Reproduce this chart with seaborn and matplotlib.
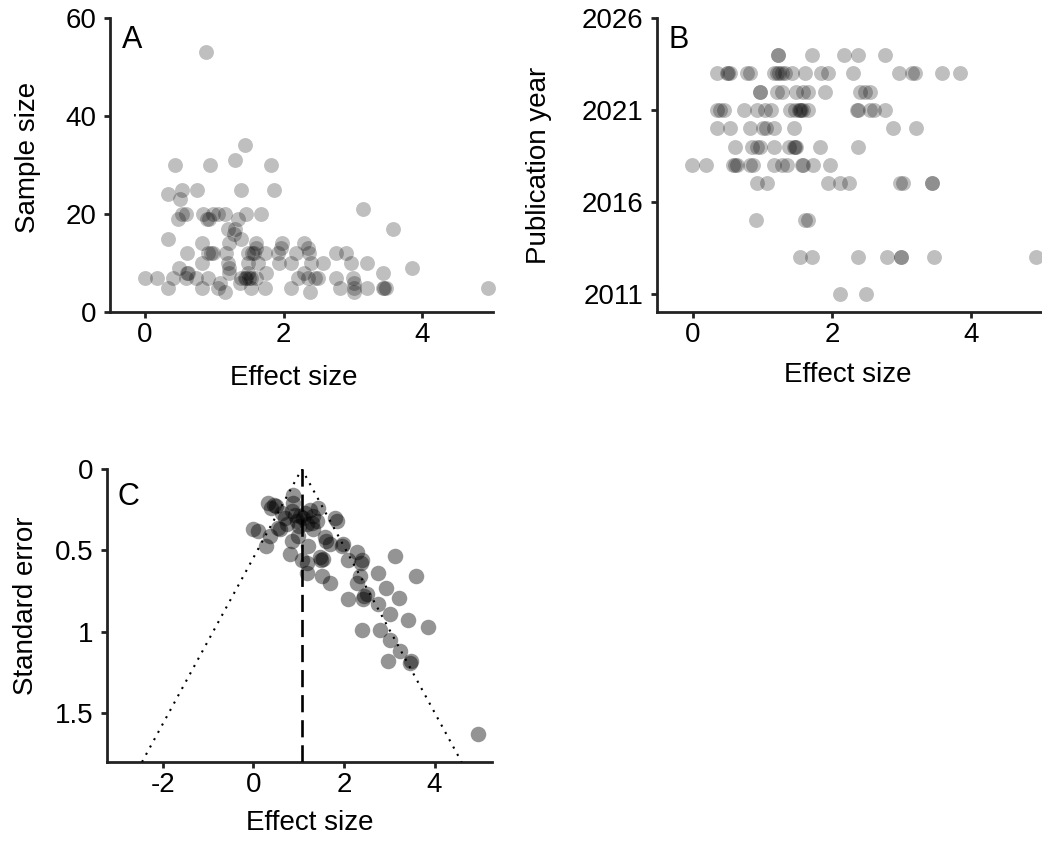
import matplotlib
matplotlib.use("Agg")
import matplotlib.pyplot as plt
import seaborn as sns
import pandas as pd

# ---------------- Data ----------------
# Panel A: effect size vs sample size
a_effect = [0.89, 1.45, 0.44, 0.94, 1.30, 1.82, 0.53, 0.76, 1.39, 1.86, 0.34, 0.51,
            0.53, 0.60, 0.48, 0.84, 0.90, 0.92, 0.98, 1.05, 1.15, 1.34, 1.46, 1.68,
            1.20, 1.30, 1.28, 0.33, 0.82, 1.21, 1.39, 1.61, 1.60, 1.98, 1.96, 2.30,
            3.14, 3.58, 0.61, 0.91, 0.95, 0.98, 1.17, 1.49, 1.55, 1.58, 1.73, 1.92,
            2.18, 2.37, 2.36, 2.76, 2.90, 0.82, 1.20, 1.22, 1.49, 1.63, 1.94, 2.11,
            2.40, 2.57, 2.97, 3.21, 0.49, 3.85, 0.61, 0.63, 1.21, 1.49, 1.75, 2.30,
            3.43, 0.00, 0.17, 0.41, 0.60, 0.74, 0.91, 1.39, 1.44, 1.46, 1.50, 1.53,
            1.61, 2.21, 2.35, 2.45, 2.49, 2.76, 3.00, 1.37, 0.34, 0.82, 1.06, 1.08,
            1.53, 1.73, 2.11, 2.81, 3.02, 3.01, 3.21, 3.43, 3.45, 3.48, 4.95, 1.15,
            2.38, 3.01]
a_n = [53, 34, 30, 30, 31, 30, 25, 25, 25, 25, 24, 23,
       20, 20, 19, 20, 19, 19, 20, 20, 20, 19, 20, 20,
       17, 17, 16, 15, 14, 14, 15, 14, 13, 14, 13, 14,
       21, 17, 12, 12, 12, 12, 12, 12, 12, 12, 12, 12,
       12, 12, 13, 12, 12, 10, 10, 9, 10, 10, 10, 10,
       10, 10, 10, 10, 9, 9, 8, 8, 8, 8, 8, 8,
       8, 7, 7, 7, 7, 7, 7, 7, 7, 7, 7, 7,
       7, 7, 7, 7, 7, 7, 7, 6, 5, 5, 5, 6,
       5, 5, 5, 5, 5, 6, 5, 5, 5, 5, 5, 4,
       4, 4]

# Panel B: effect size vs publication year
b_effect = [1.22, 1.22, 1.72, 2.17, 2.37, 2.76,
            0.34, 0.49, 0.51, 0.53, 0.78, 0.82, 1.16, 1.21, 1.24, 1.28, 1.33, 1.42,
            1.61, 1.85, 1.95, 2.30, 2.96, 3.15, 3.20, 3.58, 3.84,
            0.96, 0.96, 1.21, 1.28, 1.49, 1.59, 1.66, 1.90, 2.41, 2.48, 2.55,
            0.34, 0.39, 0.45, 0.73, 0.92, 1.04, 1.12, 1.40, 1.47, 1.52, 1.54, 1.56,
            1.59, 1.66, 2.36, 2.38, 2.55, 2.60, 2.76,
            0.34, 0.53, 0.82, 1.01, 1.05, 1.16, 1.45, 2.88, 3.21,
            0.61, 0.85, 0.92, 0.97, 1.16, 1.38, 1.45, 1.47, 1.49, 1.83, 2.38,
            -0.01, 0.18, 0.58, 0.61, 0.63, 0.82, 0.87, 1.16, 1.28, 1.35, 1.57, 1.59,
            1.73, 1.97,
            0.92, 1.06, 1.94, 2.12, 2.25, 2.98, 3.03, 3.44, 3.44,
            0.90, 1.61, 1.66,
            1.54, 1.72, 2.38, 2.79, 3.00, 3.00, 3.47, 4.94,
            2.11, 2.49]
b_year = [2024] * 6 + [2023] * 21 + [2022] * 11 + [2021] * 19 + [2020] * 9 + \
         [2019] * 11 + [2018] * 14 + [2017] * 9 + [2015] * 3 + [2013] * 8 + [2011] * 2

# Panel C: funnel plot (effect size vs standard error)
c_effect = [4.96, 3.13, 3.59, 3.86, 3.42, 2.98, 3.46, 3.48, 3.24, 3.01, 2.79, 2.39,
            3.01, 2.76, 2.94, 3.22, 2.76, 2.50, 2.43, 2.45, 2.10, 2.28, 2.35, 2.39,
            2.37, 2.28, 2.10, 1.95, 1.99, 1.69, 1.51, 1.47, 1.54, 1.50, 1.58, 1.69,
            1.60, 1.80, 1.85, 1.43, 1.32, 1.18, 1.07, 1.18, 0.81, 0.29, 0.00, 0.11,
            0.37, 0.59, 0.33, 0.40, 0.51, 0.45, 0.88, 0.85, 1.03, 0.96, 1.18, 1.25,
            1.14, 1.32, 0.99, 0.85, 1.21, 0.74, 1.40, 0.63, 0.88, 1.10, 1.00, 0.92,
            1.30, 0.70, 0.55]
c_se = [1.63, 0.535, 0.66, 0.97, 0.93, 1.18, 1.19, 1.18, 1.12, 1.05, 0.99, 0.99,
        0.89, 0.83, 0.73, 0.79, 0.64, 0.77, 0.80, 0.78, 0.80, 0.70, 0.66, 0.56,
        0.58, 0.51, 0.56, 0.47, 0.46, 0.70, 0.66, 0.54, 0.55, 0.56, 0.42, 0.46,
        0.44, 0.30, 0.32, 0.24, 0.29, 0.58, 0.56, 0.64, 0.52, 0.47, 0.37, 0.38,
        0.41, 0.37, 0.21, 0.24, 0.23, 0.22, 0.16, 0.26, 0.29, 0.32, 0.34, 0.25,
        0.27, 0.37, 0.41, 0.44, 0.47, 0.34, 0.32, 0.27, 0.21, 0.30, 0.35, 0.28,
        0.33, 0.30, 0.36]
pooled_effect = 1.07

# ---------------- Style ----------------
sns.set_theme(style="ticks")
plt.rcParams["font.family"] = ["Liberation Sans", "DejaVu Sans"]
plt.rcParams["axes.unicode_minus"] = False
plt.rcParams["text.color"] = "black"
plt.rcParams["axes.labelcolor"] = "black"
INK = "#222222"
FS = 20

fig = plt.figure(figsize=(10.42, 8.41), dpi=100)
axA = fig.add_axes([0.1056, 0.629, 0.3676, 0.3496])
axB = fig.add_axes([0.6305, 0.629, 0.3690, 0.3496])
axC = fig.add_axes([0.1027, 0.0939, 0.3695, 0.3484])

dfA = pd.DataFrame({"effect": a_effect, "n": a_n})
dfB = pd.DataFrame({"effect": b_effect, "year": b_year})
dfC = pd.DataFrame({"effect": c_effect, "se": c_se})

sns.scatterplot(data=dfA, x="effect", y="n", ax=axA, color="black", alpha=0.25,
                s=115, linewidth=0, clip_on=False)
sns.scatterplot(data=dfB, x="effect", y="year", ax=axB, color="black", alpha=0.25,
                s=115, linewidth=0, clip_on=False)

# funnel lines
se_max = 1.8
axC.plot([pooled_effect, pooled_effect], [0, se_max], color="black", lw=1.9,
         linestyle=(0, (6.5, 3)), zorder=3)
axC.plot([pooled_effect - 1.96 * se_max, pooled_effect, pooled_effect + 1.96 * se_max],
         [se_max, 0, se_max], color="black", lw=1.5, linestyle=(0, (1, 3)), zorder=3)
sns.scatterplot(data=dfC, x="effect", y="se", ax=axC, color="black", alpha=0.42,
                s=125, linewidth=0, clip_on=False, zorder=2)

# axes limits and ticks
axA.set_xlim(-0.5, 5.02)
axA.set_ylim(0, 60)
axA.set_xticks([0, 2, 4])
axA.set_yticks([0, 20, 40, 60])

axB.set_xlim(-0.52, 5.02)
axB.set_ylim(2010, 2026)
axB.set_xticks([0, 2, 4])
axB.set_yticks([2011, 2016, 2021, 2026])

axC.set_xlim(-3.23, 5.27)
axC.set_ylim(1.8, 0)
axC.set_xticks([-2, 0, 2, 4])
axC.set_xticklabels(["-2", "0", "2", "4"])
axC.set_yticks([0, 0.5, 1, 1.5])
axC.set_yticklabels(["0", "0.5", "1", "1.5"])

labels = [
    (axA, "Sample size", (-0.180, 0.527), (0.479, -0.180), "A", (0.031, 0.976)),
    (axB, "Publication year", (-0.273, 0.5), (0.495, -0.170), "B", (0.031, 0.976)),
    (axC, "Standard error", (-0.177, 0.532), (0.527, -0.164), "C", (0.026, 0.956)),
]
for ax, ylab, ypos, xpos, letter, lpos in labels:
    for side in ["top", "right"]:
        ax.spines[side].set_visible(False)
    for side in ["left", "bottom"]:
        ax.spines[side].set_linewidth(2.0)
        ax.spines[side].set_color(INK)
    ax.tick_params(axis="both", direction="out", length=4, width=2, color=INK,
                   labelsize=FS, labelcolor="black")
    ax.tick_params(axis="x", pad=3.5)
    ax.tick_params(axis="y", pad=6)
    ax.set_xlabel("Effect size", fontsize=FS, color="black")
    ax.set_ylabel(ylab, fontsize=FS, color="black")
    ax.yaxis.set_label_coords(*ypos)
    ax.xaxis.set_label_coords(*xpos)
    ax.text(lpos[0], lpos[1], letter, transform=ax.transAxes, fontsize=22,
            ha="left", va="top", color="black")
    ax.set_facecolor("white")

fig.savefig("out.png", dpi=100, facecolor="white")
